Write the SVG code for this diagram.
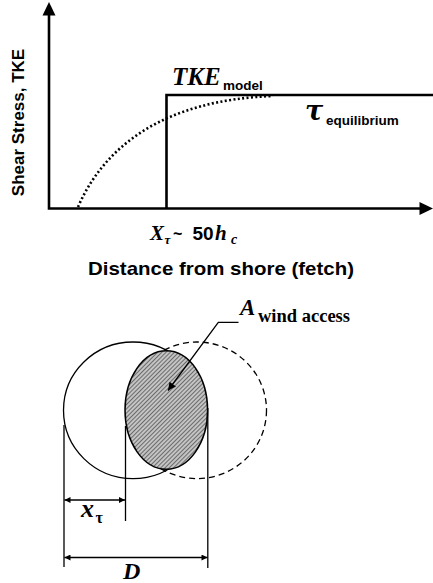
<svg xmlns="http://www.w3.org/2000/svg" width="433" height="583" viewBox="0 0 433 583">
<style>
.ax{stroke:#000;stroke-width:2.6;fill:none}
.thin{stroke:#000;stroke-width:1.3;fill:none}
.sans{font-family:"Liberation Sans",Arial,sans-serif;font-weight:bold;fill:#000}
.serif{font-family:"Liberation Serif","Times New Roman",serif;font-weight:bold;fill:#000}
.dj{font-family:"DejaVu Serif",serif;font-weight:bold;fill:#000}
.it{font-style:italic}
</style>
<defs>
<pattern id="hatch" width="3" height="3" patternUnits="userSpaceOnUse" patternTransform="rotate(45)">
<rect width="3" height="3" fill="#c4c4c4"/>
<line x1="0" y1="0" x2="0" y2="3" stroke="#3a3a3a" stroke-width="1.3"/>
</pattern>
<marker id="dimA" viewBox="0 0 10 10" refX="10" refY="5" markerWidth="8" markerHeight="6" markerUnits="userSpaceOnUse" orient="auto-start-reverse">
<path d="M0,0 L10,5 L0,10 Z" fill="#000"/>
</marker>
<marker id="lead" viewBox="0 0 10 10" refX="10" refY="5" markerWidth="10" markerHeight="8" markerUnits="userSpaceOnUse" orient="auto">
<path d="M0,0 L10,5 L0,10 Z" fill="#000"/>
</marker>
</defs>
<rect width="433" height="583" fill="#fff"/>

<g id="chart">
<path class="ax" d="M49,15 V208.5 H421"/>
<path d="M49,2 L42.5,15.5 L55.5,15.5 Z" fill="#000"/>
<path d="M433,208.5 L419.5,202 L419.5,215 Z" fill="#000"/>
<path class="ax" d="M166.5,208.5 V95 H433"/>
<path d="M78,207 C105,145 165,100 273,96" fill="none" stroke="#000" stroke-width="2.6" stroke-dasharray="2 2.4"/>
<text class="sans" font-size="17" transform="translate(24,122.5) rotate(-90)" text-anchor="middle">Shear Stress, TKE</text>
<text x="172" y="85" class="serif it" font-size="25">TKE</text>
<text x="223" y="90" class="sans" font-size="13.5">model</text>
<text x="305" y="120" class="dj it" font-size="27">τ</text>
<text x="326" y="125" class="sans" font-size="13.5">equilibrium</text>
<text x="150" y="239.5" class="serif it" font-size="21">X</text>
<text x="164.5" y="243.5" class="serif it" font-size="13">τ</text>
<text x="173" y="239" class="sans" font-size="16">~</text>
<text x="192.5" y="239.5" class="sans" font-size="19">50</text>
<text x="215" y="239.5" class="serif it" font-size="21">h</text>
<text x="231" y="243.5" class="serif it" font-size="14">c</text>
<text x="88" y="275" class="sans" font-size="19" textLength="266" lengthAdjust="spacingAndGlyphs">Distance from shore (fetch)</text>
</g>

<g id="circles">
<ellipse id="solid-circle" cx="133" cy="410.3" rx="69.5" ry="68.3" class="thin"/>
<ellipse id="dashed-circle" cx="197" cy="410.3" rx="69.5" ry="68.3" class="thin" stroke-dasharray="6 4"/>
<ellipse id="wind-access" cx="166.3" cy="410" rx="41.3" ry="59.2" fill="url(#hatch)" stroke="#000" stroke-width="1.5"/>
</g>

<g id="connectors">
<path class="thin" d="M64,425 V567"/>
<path class="thin" d="M125.5,426 V521"/>
<path class="thin" d="M207.8,408 V568"/>
<path class="thin" d="M64.5,500 H125" marker-start="url(#dimA)" marker-end="url(#dimA)"/>
<path class="thin" d="M64.5,557.5 H207.5" marker-start="url(#dimA)" marker-end="url(#dimA)"/>
<path class="thin" d="M238.5,322.3 H218.3 L168,390.5" marker-end="url(#lead)"/>
</g>

<g id="labels">
<text x="240" y="315" class="serif it" font-size="23">A</text>
<text x="258" y="322.3" class="serif" font-size="18.5">wind access</text>
<text x="81" y="516.7" class="serif it" font-size="26">x</text>
<text x="95.5" y="523" class="serif" font-size="16">τ</text>
<text x="123" y="579.3" class="serif it" font-size="24">D</text>
</g>
</svg>
